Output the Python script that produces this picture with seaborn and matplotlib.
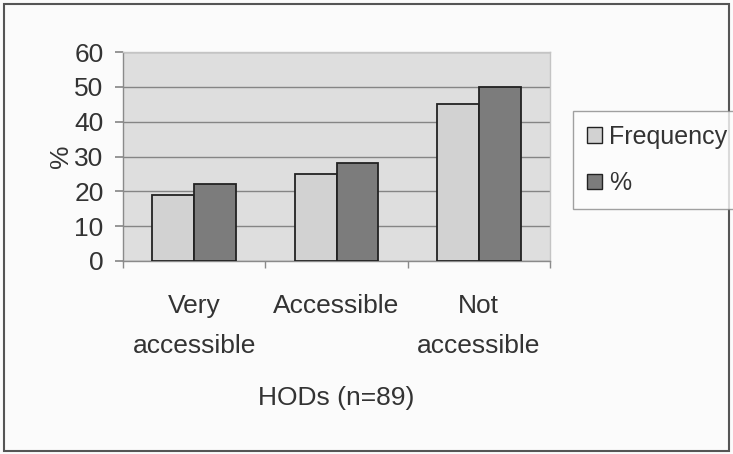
import matplotlib
matplotlib.use("Agg")
import matplotlib.pyplot as plt
import matplotlib.patches as mpatches
import seaborn as sns
import pandas as pd

categories = ["Very\naccessible", "Accessible", "Not\naccessible"]
series_names = ["Frequency", "%"]
frequency = [19, 25, 45]
percent = [22, 28, 50]
y_ticks = [0, 10, 20, 30, 40, 50, 60]

df = pd.DataFrame({
    "category": categories * 2,
    "series": [series_names[0]] * 3 + [series_names[1]] * 3,
    "value": frequency + percent,
})

sns.set_theme(style="white")
plt.rcParams["font.family"] = ["Liberation Sans", "DejaVu Sans"]
txt = "#333333"

fig = plt.figure(figsize=(7.33, 4.54), dpi=100)
fig.patch.set_facecolor("#fbfbfb")
ax = fig.add_axes([123 / 733, 1 - 261 / 454, 427 / 733, 209 / 454])
ax.set_facecolor("#dedede")

sns.barplot(data=df, x="category", y="value", hue="series", order=categories,
            hue_order=series_names, palette=["#d2d2d2", "#7c7c7c"], width=0.59,
            gap=0, edgecolor="#222222", linewidth=1.3, ax=ax, legend=False,
            saturation=1, zorder=3)

ax.set_ylim(0, 60)
ax.set_xlim(-0.5, 2.5)
ax.set_yticks(y_ticks)
ax.yaxis.grid(True, color="#858585", linewidth=1.0, zorder=0)
ax.set_axisbelow(True)
for s in ["top", "right"]:
    ax.spines[s].set_color("#c4c4c4")
    ax.spines[s].set_linewidth(1.0)
ax.spines["left"].set_color("#8a8a8a")
ax.spines["bottom"].set_color("#8a8a8a")
ax.spines["left"].set_linewidth(1.0)
ax.spines["bottom"].set_linewidth(1.0)

ax.tick_params(axis="y", which="major", left=True, length=6, color="#8a8a8a",
               labelsize=19, labelcolor=txt, pad=8)
ax.tick_params(axis="x", which="major", length=0, labelsize=19, labelcolor=txt, pad=24)
ax.set_xticks([-0.5, 0.5, 1.5, 2.5], minor=True)
ax.tick_params(axis="x", which="minor", bottom=True, length=5, color="#8a8a8a")
for lab in ax.get_xticklabels():
    lab.set_multialignment("center")
    lab.set_linespacing(1.85)

ax.set_xlabel("HODs (n=89)", fontsize=19, color=txt, labelpad=20)
ax.set_ylabel("%", fontsize=19, color=txt, labelpad=1)

handles = [mpatches.Patch(facecolor=c, edgecolor="#222222", linewidth=1.0)
           for c in ["#d2d2d2", "#7c7c7c"]]
leg = fig.legend(handles, series_names, loc="center left",
                 bbox_to_anchor=(573 / 733, 1 - 160 / 454), fontsize=18,
                 frameon=True, fancybox=False, handlelength=0.6, handleheight=0.6,
                 handletextpad=0.3, labelspacing=0.9, borderpad=0.55, borderaxespad=0)
leg.get_frame().set_edgecolor("#8a8a8a")
leg.get_frame().set_facecolor("#fdfdfd")
for t in leg.get_texts():
    t.set_color(txt)

fig.patches.append(mpatches.Rectangle((4 / 733, 3 / 454), 725 / 733, 447 / 454,
                                      transform=fig.transFigure, fill=False,
                                      edgecolor="#555555", linewidth=1.5))

fig.savefig("out.png", dpi=100)
